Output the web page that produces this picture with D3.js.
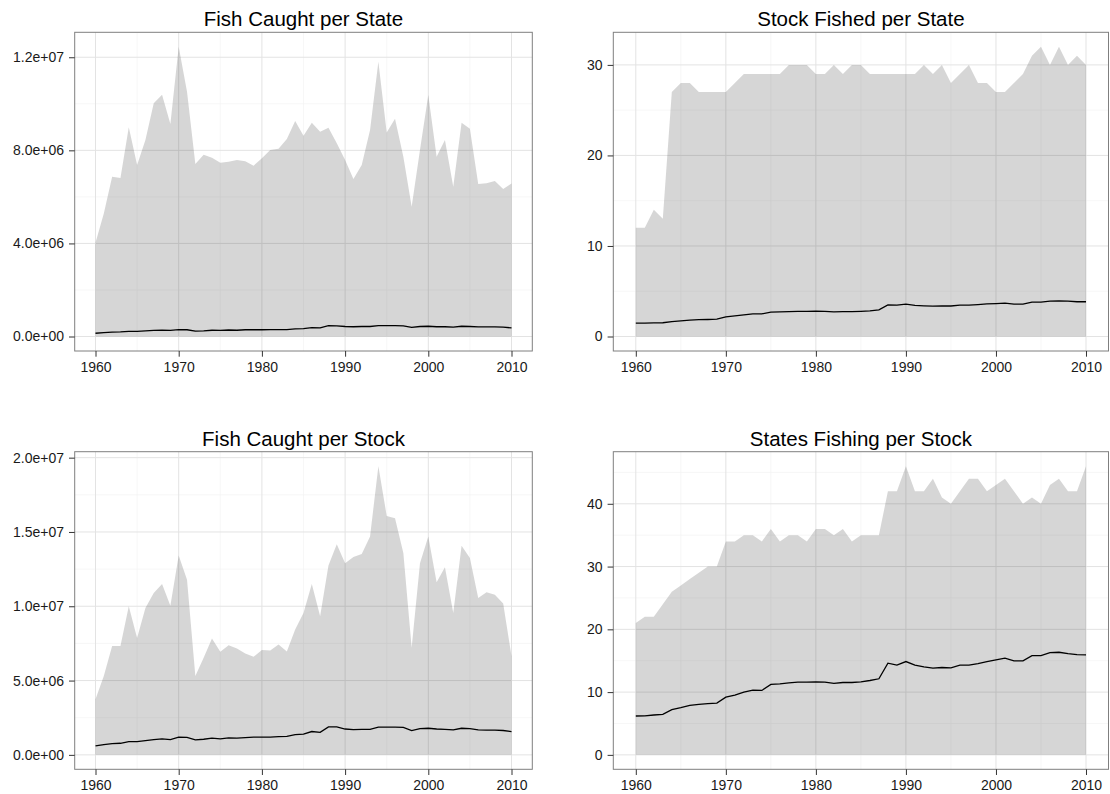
<!DOCTYPE html>
<html>
<head>
<meta charset="utf-8">
<script src="https://cdn.jsdelivr.net/npm/d3@7"></script>
<style>
  body { margin: 0; background: #fff; }
  svg { font-family: "Liberation Sans", Arial, sans-serif; display: block; }
</style>
</head>
<body>
<div id="d3-container"></div>
<script>
const years = [1960, 1961, 1962, 1963, 1964, 1965, 1966, 1967, 1968, 1969,
  1970, 1971, 1972, 1973, 1974, 1975, 1976, 1977, 1978, 1979,
  1980, 1981, 1982, 1983, 1984, 1985, 1986, 1987, 1988, 1989,
  1990, 1991, 1992, 1993, 1994, 1995, 1996, 1997, 1998, 1999,
  2000, 2001, 2002, 2003, 2004, 2005, 2006, 2007, 2008, 2009, 2010];

const xTicks = [1960, 1970, 1980, 1990, 2000, 2010];

// fish caught per state (max and mean, in millions)
const caughtStateMax = [4.03, 5.29, 6.87, 6.81, 8.99, 7.37, 8.44, 10.02, 10.39, 9.13,
  12.45, 10.52, 7.41, 7.81, 7.68, 7.47, 7.51, 7.58, 7.53, 7.34,
  7.66, 8.01, 8.07, 8.49, 9.26, 8.63, 9.19, 8.80, 8.97, 8.30,
  7.58, 6.77, 7.37, 8.87, 11.81, 8.77, 9.36, 7.73, 5.58, 8.01,
  10.38, 7.73, 8.44, 6.44, 9.19, 8.93, 6.55, 6.59, 6.68, 6.34, 6.58];
const caughtStateMean = [0.14, 0.17, 0.19, 0.20, 0.22, 0.22, 0.24, 0.26, 0.27, 0.26,
  0.30, 0.29, 0.23, 0.24, 0.27, 0.26, 0.28, 0.27, 0.29, 0.29,
  0.29, 0.30, 0.30, 0.30, 0.33, 0.34, 0.38, 0.37, 0.47, 0.46,
  0.43, 0.42, 0.43, 0.43, 0.47, 0.47, 0.47, 0.46, 0.39, 0.43,
  0.44, 0.42, 0.42, 0.40, 0.44, 0.43, 0.41, 0.41, 0.41, 0.40, 0.37];
const caughtStateTicks = [0, 4e6, 8e6, 1.2e7];
const caughtStateLabels = ["0.0e+00", "4.0e+06", "8.0e+06", "1.2e+07"];

// stock fished per state
const stockStateMax = [12, 12, 14, 13, 27, 28, 28, 27, 27, 27,
  27, 28, 29, 29, 29, 29, 29, 30, 30, 30,
  29, 29, 30, 29, 30, 30, 29, 29, 29, 29,
  29, 29, 30, 29, 30, 28, 29, 30, 28, 28,
  27, 27, 28, 29, 31, 32, 30, 32, 30, 31, 30];
const stockStateMean = [1.47, 1.48, 1.50, 1.52, 1.65, 1.72, 1.80, 1.86, 1.88, 1.92,
  2.18, 2.28, 2.40, 2.50, 2.50, 2.70, 2.72, 2.76, 2.78, 2.78,
  2.80, 2.78, 2.72, 2.74, 2.75, 2.78, 2.83, 2.94, 3.50, 3.46,
  3.57, 3.44, 3.39, 3.35, 3.37, 3.37, 3.46, 3.46, 3.53, 3.60,
  3.64, 3.68, 3.57, 3.57, 3.79, 3.80, 3.90, 3.94, 3.90, 3.84, 3.84];
const stockStateTicks = [0, 10, 20, 30];
const stockStateLabels = ["0", "10", "20", "30"];

// fish caught per stock (millions)
const caughtStockMax = [3.74, 5.30, 7.32, 7.32, 10.0, 7.87, 9.89, 10.9, 11.5, 10.04,
  13.42, 11.79, 5.30, 6.53, 7.83, 6.94, 7.38, 7.16, 6.82, 6.60,
  7.05, 7.02, 7.43, 6.96, 8.43, 9.55, 11.5, 9.33, 12.75, 14.18,
  12.9, 13.31, 13.51, 14.7, 19.43, 16.08, 15.93, 13.58, 7.20, 12.9,
  14.7, 11.61, 12.62, 9.55, 14.07, 13.24, 10.56, 10.94, 10.78, 10.18, 6.64];
const caughtStockMean = [0.60, 0.69, 0.76, 0.78, 0.89, 0.89, 0.96, 1.03, 1.07, 1.03,
  1.19, 1.18, 1.01, 1.05, 1.12, 1.07, 1.14, 1.12, 1.16, 1.19,
  1.19, 1.20, 1.23, 1.24, 1.36, 1.39, 1.57, 1.52, 1.88, 1.88,
  1.74, 1.70, 1.72, 1.72, 1.86, 1.86, 1.86, 1.85, 1.63, 1.77,
  1.79, 1.74, 1.72, 1.68, 1.79, 1.77, 1.68, 1.67, 1.66, 1.64, 1.57];
const caughtStockTicks = [0, 5e6, 1e7, 1.5e7, 2e7];
const caughtStockLabels = ["0.0e+00", "5.0e+06", "1.0e+07", "1.5e+07", "2.0e+07"];

// states fishing per stock
const statesStockMax = [21, 22, 22, 24, 26, 27, 28, 29, 30, 30,
  34, 34, 35, 35, 34, 36, 34, 35, 35, 34,
  36, 36, 35, 36, 34, 35, 35, 35, 42, 42,
  46, 42, 42, 44, 41, 40, 42, 44, 44, 42,
  43, 44, 42, 40, 41, 40, 43, 44, 42, 42, 46];
const statesStockMean = [6.19, 6.22, 6.35, 6.46, 7.20, 7.51, 7.88, 8.04, 8.15, 8.25,
  9.20, 9.52, 10.0, 10.32, 10.26, 11.22, 11.32, 11.48, 11.59, 11.59,
  11.64, 11.59, 11.38, 11.53, 11.53, 11.64, 11.85, 12.12, 14.6, 14.29,
  14.87, 14.29, 14.02, 13.81, 13.92, 13.86, 14.29, 14.29, 14.55, 14.87,
  15.13, 15.4, 14.97, 14.97, 15.82, 15.82, 16.3, 16.35, 16.14, 15.98, 15.93];
const statesStockTicks = [0, 10, 20, 30, 40];
const statesStockLabels = ["0", "10", "20", "30", "40"];

const width = 1110;
const height = 794;

const svg = d3.select('#d3-container')
  .append('svg')
  .attr('width', width)
  .attr('height', height)
  .attr('viewBox', [0, 0, width, height]);

function panel(opts) {
  const { left, right, top, bottom, title, upper, mean, scale, ticks, labels } = opts;
  const up = upper.map(v => v * scale);
  const mn = mean.map(v => v * scale);

  const yMax = d3.max(up);
  const pad = yMax * 0.05;
  const x = d3.scaleLinear().domain([1960 - 2.5, 2010 + 2.5]).range([left, right]);
  const y = d3.scaleLinear().domain([-pad, yMax + pad]).range([bottom, top]);

  const g = svg.append('g');

  // minor grid: midway between major breaks
  const xStep = xTicks[1] - xTicks[0];
  const xMinor = [xTicks[0] - xStep / 2, ...xTicks.map(t => t + xStep / 2)]
    .filter(t => t > x.domain()[0] && t < x.domain()[1]);
  const yStep = ticks[1] - ticks[0];
  const yMinor = [ticks[0] - yStep / 2, ...ticks.map(t => t + yStep / 2)]
    .filter(t => t > y.domain()[0] && t < y.domain()[1]);

  g.append('g')
    .attr('stroke', '#f3f3f3')
    .attr('stroke-width', 0.7)
    .call(s => s.selectAll('.vminor').data(xMinor).join('line')
      .attr('x1', d => x(d)).attr('x2', d => x(d)).attr('y1', top).attr('y2', bottom))
    .call(s => s.selectAll('.hminor').data(yMinor).join('line')
      .attr('y1', d => y(d)).attr('y2', d => y(d)).attr('x1', left).attr('x2', right));

  g.append('g')
    .attr('stroke', '#e3e3e3')
    .attr('stroke-width', 1)
    .call(s => s.selectAll('.vmajor').data(xTicks).join('line')
      .attr('x1', d => x(d)).attr('x2', d => x(d)).attr('y1', top).attr('y2', bottom))
    .call(s => s.selectAll('.hmajor').data(ticks).join('line')
      .attr('y1', d => y(d)).attr('y2', d => y(d)).attr('x1', left).attr('x2', right));

  const area = d3.area()
    .x((d, i) => x(years[i]))
    .y0(y(0))
    .y1(d => y(d));

  g.append('path')
    .datum(up)
    .attr('fill', 'rgb(51,51,51)')
    .attr('fill-opacity', 0.2)
    .attr('d', area);

  const line = d3.line()
    .x((d, i) => x(years[i]))
    .y(d => y(d));

  g.append('path')
    .datum(mn)
    .attr('fill', 'none')
    .attr('stroke', '#000')
    .attr('stroke-width', 1.3)
    .attr('d', line);

  g.append('rect')
    .attr('x', left).attr('y', top)
    .attr('width', right - left).attr('height', bottom - top)
    .attr('fill', 'none')
    .attr('stroke', '#7f7f7f')
    .attr('stroke-width', 1);

  const xAxis = d3.axisBottom(x)
    .tickValues(xTicks)
    .tickFormat(d3.format('d'))
    .tickSize(5.7)
    .tickPadding(5.3);

  const yAxis = d3.axisLeft(y)
    .tickValues(ticks)
    .tickFormat((d, i) => labels[i])
    .tickSize(5.7)
    .tickPadding(5);

  g.append('g')
    .attr('transform', `translate(0, ${bottom})`)
    .call(xAxis)
    .call(a => a.select('.domain').remove())
    .call(a => a.selectAll('line').attr('stroke', '#333'))
    .call(a => a.selectAll('text').attr('fill', '#1a1a1a'))
    .attr('font-size', '14px')
    .attr('font-family', null);

  g.append('g')
    .attr('transform', `translate(${left}, 0)`)
    .call(yAxis)
    .call(a => a.select('.domain').remove())
    .call(a => a.selectAll('line').attr('stroke', '#333'))
    .call(a => a.selectAll('text').attr('fill', '#1a1a1a'))
    .attr('font-size', '14px')
    .attr('font-family', null);

  g.append('text')
    .attr('x', (left + right) / 2)
    .attr('y', top - 6)
    .attr('text-anchor', 'middle')
    .attr('font-size', '20.5px')
    .attr('fill', '#000')
    .text(title);
}

panel({ left: 74.7, right: 532.3, top: 32.3, bottom: 351, title: 'Fish Caught per State',
  upper: caughtStateMax, mean: caughtStateMean, scale: 1e6,
  ticks: caughtStateTicks, labels: caughtStateLabels });

panel({ left: 613.3, right: 1108.5, top: 32.3, bottom: 351, title: 'Stock Fished per State',
  upper: stockStateMax, mean: stockStateMean, scale: 1,
  ticks: stockStateTicks, labels: stockStateLabels });

panel({ left: 74.7, right: 532.3, top: 451.7, bottom: 769.3, title: 'Fish Caught per Stock',
  upper: caughtStockMax, mean: caughtStockMean, scale: 1e6,
  ticks: caughtStockTicks, labels: caughtStockLabels });

panel({ left: 613.3, right: 1108.5, top: 451.7, bottom: 769.3, title: 'States Fishing per Stock',
  upper: statesStockMax, mean: statesStockMean, scale: 1,
  ticks: statesStockTicks, labels: statesStockLabels });
</script>
</body>
</html>
